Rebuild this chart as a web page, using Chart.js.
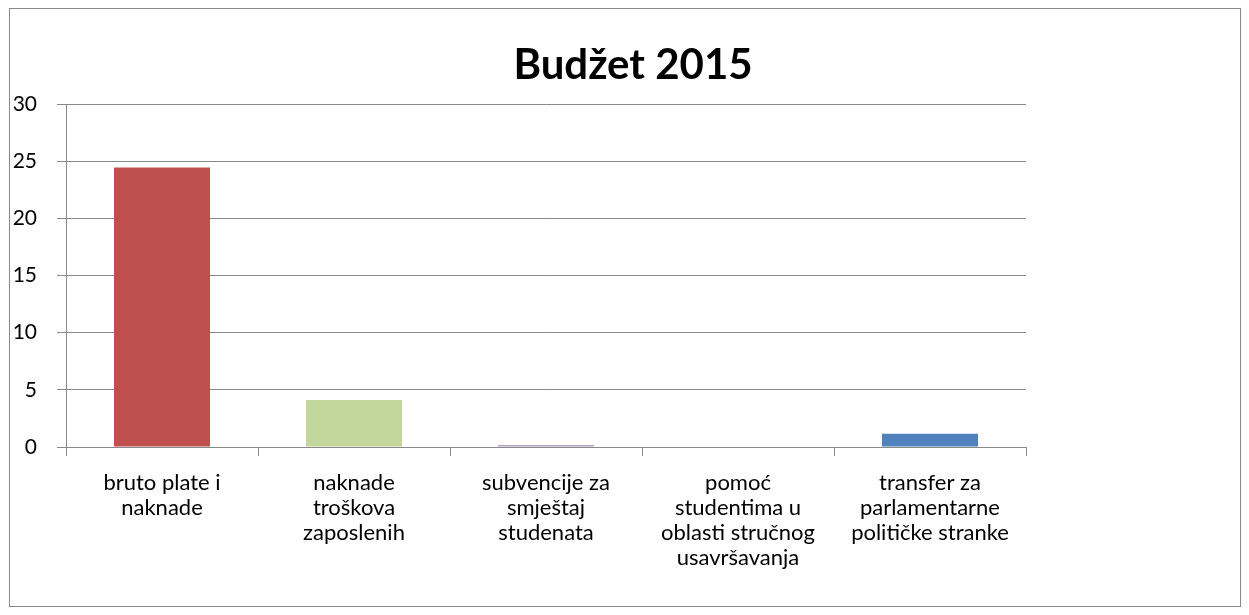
<!DOCTYPE html>
<html>
<head>
<meta charset="utf-8">
<title>Budžet 2015</title>
<script src="https://cdn.jsdelivr.net/npm/chart.js@4/dist/chart.umd.min.js"></script>
<style>
    body { margin: 0; background: #fff; }
    canvas { display: block; }
</style>
</head>
<body>
<canvas id="budget-chart" width="1249" height="615"></canvas>
<script>
// Chart data
const categories = [
    ['bruto plate i', 'naknade'],
    ['naknade', 'troškova', 'zaposlenih'],
    ['subvencije za', 'smještaj', 'studenata'],
    ['pomoć', 'studentima u', 'oblasti stručnog', 'usavršavanja'],
    ['transfer za', 'parlamentarne', 'političke stranke']
];
const amounts = [24.45, 4.1, 0.18, 0, 1.15];
const barColors = ['#C0504D', '#C3D69B', '#B3A2C7', '#93CDDD', '#4F81BD'];
const chartTitle = 'Budžet 2015';

const GRID_COLOR = '#898989';
const FONT_FAMILY = 'Lato, "Open Sans", sans-serif';

// Outer frame and title, drawn like the spreadsheet chart
const framePlugin = {
    id: 'frame',
    beforeDraw(chart) {
        const ctx = chart.ctx;
        ctx.save();
        ctx.fillStyle = '#fff';
        ctx.fillRect(0, 0, chart.width, chart.height);
        ctx.strokeStyle = GRID_COLOR;
        ctx.lineWidth = 1;
        ctx.strokeRect(9.5, 8.5, 1231, 598);
        ctx.restore();
    },
    afterDraw(chart) {
        const ctx = chart.ctx;
        ctx.save();
        ctx.fillStyle = '#000';
        ctx.font = 'bold 42px ' + FONT_FAMILY;
        ctx.textAlign = 'center';
        ctx.textBaseline = 'alphabetic';
        ctx.fillText(chartTitle, 633, 79);
        ctx.restore();
    }
};

function initChart() {
    const ctx = document.getElementById('budget-chart').getContext('2d');
    new Chart(ctx, {
        type: 'bar',
        data: {
            labels: categories,
            datasets: [{
                data: amounts,
                backgroundColor: barColors,
                barPercentage: 0.5,
                categoryPercentage: 1.0
            }]
        },
        options: {
            responsive: false,
            animation: false,
            layout: {
                padding: { left: 0, right: 223, top: 104, bottom: 0 }
            },
            plugins: {
                legend: { display: false },
                tooltip: { enabled: false },
                title: { display: false }
            },
            scales: {
                x: {
                    grid: {
                        drawOnChartArea: false,
                        drawTicks: true,
                        tickLength: 9,
                        color: GRID_COLOR,
                        offset: true
                    },
                    border: { color: GRID_COLOR, width: 1 },
                    ticks: {
                        color: '#000',
                        font: { family: FONT_FAMILY, size: 22, lineHeight: 25 / 22 },
                        padding: 14,
                        maxRotation: 0,
                        autoSkip: false
                    },
                    afterFit(scale) { scale.height = 615 - 447; }
                },
                y: {
                    min: 0,
                    max: 30,
                    grid: {
                        color: GRID_COLOR,
                        lineWidth: 1,
                        tickLength: 9
                    },
                    border: { color: GRID_COLOR, width: 1 },
                    ticks: {
                        stepSize: 5,
                        color: '#000',
                        font: { family: FONT_FAMILY, size: 21 },
                        padding: 20
                    },
                    afterFit(scale) { scale.width = 66; }
                }
            }
        },
        plugins: [framePlugin]
    });
}

document.addEventListener('DOMContentLoaded', initChart);
</script>
</body>
</html>
